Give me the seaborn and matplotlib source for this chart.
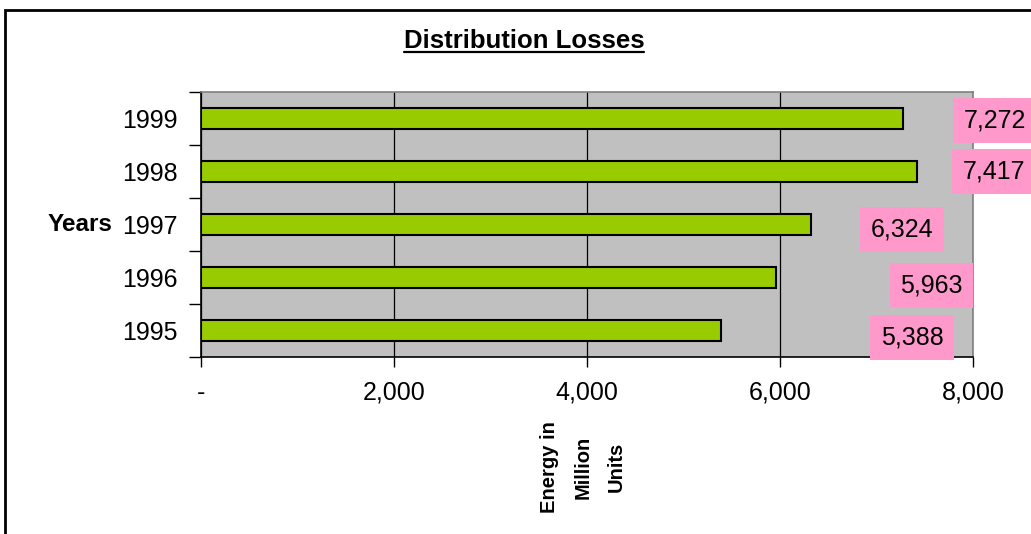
import matplotlib
matplotlib.use("Agg")
import matplotlib.pyplot as plt
from matplotlib.patches import Rectangle
from matplotlib.ticker import FixedLocator, FixedFormatter
import seaborn as sns
import pandas as pd

# Distribution losses per year (million units)
years = ["1999", "1998", "1997", "1996", "1995"]
losses = [7272, 7417, 6324, 5963, 5388]
x_ticks = [0, 2000, 4000, 6000, 8000]
x_tick_labels = ["-", "2,000", "4,000", "6,000", "8,000"]

# Offsets (pixels) of the value boxes from the bar ends
label_offsets = [(92, -2), (77, 0), (91, -5), (155, -8), (191, -7)]

sns.set_theme(style="white")
plt.rcParams["font.family"] = ["Liberation Sans", "DejaVu Sans"]
plt.rcParams["text.color"] = "black"
plt.rcParams["xtick.color"] = "black"
plt.rcParams["ytick.color"] = "black"
plt.rcParams["axes.labelcolor"] = "black"

df = pd.DataFrame({"Year": years, "Losses": losses})

fig = plt.figure(figsize=(10.31, 5.34), dpi=100)
fig.patch.set_facecolor("white")
ax = fig.add_axes([201 / 1031, 1 - 357 / 534, 772 / 1031, 265 / 534])
ax.set_facecolor("#C0C0C0")

sns.barplot(data=df, x="Losses", y="Year", order=years, orient="h",
            color="#99CC00", edgecolor="black", linewidth=1.5,
            width=0.4, saturation=1, ax=ax, zorder=3)

ax.set_xlim(0, 8000)
ax.set_ylim(4.5, -0.5)

# vertical gridlines
ax.xaxis.set_major_locator(FixedLocator(x_ticks))
ax.xaxis.set_major_formatter(FixedFormatter(x_tick_labels))
ax.grid(axis="x", color="black", linewidth=0.9, zorder=1)
ax.grid(axis="y", visible=False)
ax.set_axisbelow(True)

# tick styling
ax.tick_params(axis="x", which="major", direction="out", length=7, width=1,
               color="black", labelsize=18, pad=10, bottom=True)
ax.set_yticks(range(len(years)))
ax.set_yticklabels(years)
ax.tick_params(axis="y", which="major", length=0, labelsize=18, pad=16.5)
ax.set_yticks([i - 0.5 for i in range(len(years) + 1)], minor=True)
ax.tick_params(axis="y", which="minor", direction="out", length=9, width=1,
               color="black", left=True)

for side in ["top", "right"]:
    ax.spines[side].set_color("#808080")
    ax.spines[side].set_linewidth(1.2)
for side in ["left", "bottom"]:
    ax.spines[side].set_color("black")
    ax.spines[side].set_linewidth(1.2)

# axis labels
ax.set_ylabel("Years", rotation=0, fontsize=17.5, fontweight="bold",
              ha="right", va="center")
ax.yaxis.set_label_coords(-0.115, 0.5)
ax.set_xlabel("Energy in\nMillion\nUnits", rotation=90, fontsize=14.5,
              fontweight="bold", ha="center", va="center",
              multialignment="center", linespacing=1.95)
ax.xaxis.set_label_coords(0.495, -0.415)

# value boxes
for i, (v, off) in enumerate(zip(losses, label_offsets)):
    ax.annotate(f"{v:,}", xy=(v, i), xytext=off, textcoords="offset pixels",
                ha="center", va="center", fontsize=18, color="black",
                annotation_clip=False, zorder=5,
                bbox=dict(boxstyle="square,pad=0.42", facecolor="#FF99CC",
                          edgecolor="none"))

# title with underline
title = fig.text(524 / 1031, 1 - 41 / 534, "Distribution Losses",
                 ha="center", va="center", fontsize=18.5, fontweight="bold")
fig.canvas.draw()
bb = title.get_window_extent()
uy = 1 - 52 / 534
fig.add_artist(plt.Line2D([bb.x0 / 1031, bb.x1 / 1031], [uy, uy],
                          color="black", linewidth=1.6,
                          transform=fig.transFigure))

# chart frame
fig.add_artist(Rectangle((5 / 1031, -0.1), 1.2, 1 - 10 / 534 + 0.1,
                         transform=fig.transFigure, fill=False,
                         edgecolor="black", linewidth=2))

fig.savefig("out.png", dpi=100)
